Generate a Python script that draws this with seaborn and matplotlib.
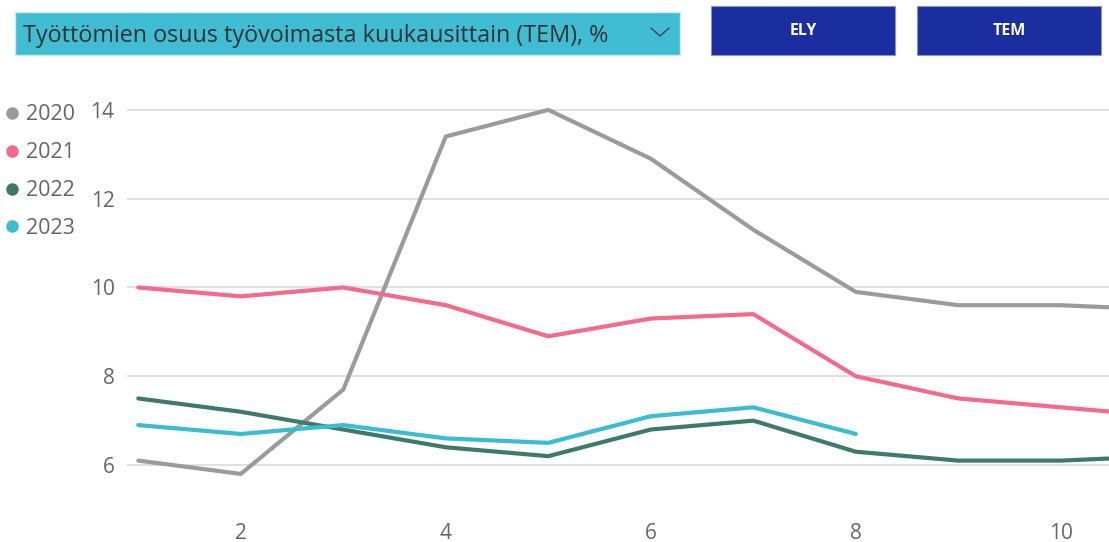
import seaborn as sns
import matplotlib.pyplot as plt
import pandas as pd
from matplotlib.lines import Line2D
from matplotlib.patches import Rectangle

# monthly unemployment share of labour force (%)
months = [1, 2, 3, 4, 5, 6, 7, 8, 9, 10, 11]
y2020 = [6.1, 5.8, 7.7, 13.4, 14.0, 12.9, 11.3, 9.9, 9.6, 9.6, 9.5]
y2021 = [10.0, 9.8, 10.0, 9.6, 8.9, 9.3, 9.4, 8.0, 7.5, 7.3, 7.1]
y2022 = [7.5, 7.2, 6.8, 6.4, 6.2, 6.8, 7.0, 6.3, 6.1, 6.1, 6.2]
y2023 = [6.9, 6.7, 6.9, 6.6, 6.5, 7.1, 7.3, 6.7]
years = ['2020', '2021', '2022', '2023']
colors = ['#9b9b9b', '#f6698b', '#3e7a6a', '#38bdd3']
x_ticks = [2, 4, 6, 8, 10]
y_ticks = [6, 8, 10, 12, 14]
title = 'Työttömien osuus työvoimasta kuukausittain (TEM), %'
buttons = ['ELY', 'TEM']


def main():
    sns.set_theme(style='white')
    plt.rcParams['font.family'] = ['Open Sans', 'DejaVu Sans']
    txt = '#666666'

    frames = []
    for year, vals in zip(years, [y2020, y2021, y2022, y2023]):
        frames.append(pd.DataFrame({'month': months[:len(vals)],
                                    'value': vals, 'year': year}))
    df = pd.concat(frames, ignore_index=True)

    fig = plt.figure(figsize=(11.09, 5.42), dpi=100)
    ax = fig.add_axes([127 / 1109, 1 - 505 / 542, 1 - 127 / 1109,
                       (505 - 97) / 542])
    sns.lineplot(data=df, x='month', y='value', hue='year',
                 palette=dict(zip(years, colors)), linewidth=3,
                 legend=False, ax=ax, zorder=3)
    ax.set_xlim(0.89, 10.47)
    ax.set_ylim(5.1, 14.29)
    ax.set_xticks(x_ticks)
    ax.set_yticks(y_ticks)
    ax.set_xlabel('')
    ax.set_ylabel('')
    ax.grid(axis='y', color='#e1e1e1', linewidth=1.4)
    ax.grid(axis='x', visible=False)
    for s in ax.spines.values():
        s.set_visible(False)
    ax.tick_params(axis='y', length=0, pad=9, labelsize=15, labelcolor=txt)
    ax.tick_params(axis='x', length=0, pad=13, labelsize=15, labelcolor=txt)

    handles = [Line2D([], [], linestyle='none', marker='o', markersize=8,
                      color=c) for c in colors]
    fig.legend(handles, years, loc='upper left',
               bbox_to_anchor=(0.0, 1 - 98 / 542), frameon=False,
               fontsize=15.5, labelcolor=txt, handlelength=0.5,
               handletextpad=0.4, labelspacing=0.78, borderpad=0.3,
               borderaxespad=0)

    # dropdown header
    fig.patches.append(Rectangle((15 / 1109, 1 - 55 / 542), 665 / 1109,
                                 43 / 542, transform=fig.transFigure,
                                 facecolor='#40bdd2', edgecolor='#cfe9ef',
                                 linewidth=1))
    fig.text(23 / 1109, 1 - 36 / 542, title, fontsize=16.8,
             color='#333333', va='center', ha='left')
    fig.lines.append(Line2D([651 / 1109, 660 / 1109, 669 / 1109],
                            [1 - 28 / 542, 1 - 36 / 542, 1 - 28 / 542],
                            transform=fig.transFigure, color='#444444',
                            linewidth=1))

    # buttons
    for i, label in enumerate(buttons):
        x0 = (711 + i * 206) / 1109
        fig.patches.append(Rectangle((x0, 1 - 55 / 542), 184 / 1109,
                                     49 / 542, transform=fig.transFigure,
                                     facecolor='#1a2ea0',
                                     edgecolor='#8c93c8', linewidth=0.8))
        fig.text(x0 + 92 / 1109, 1 - 31 / 542, label, fontsize=11.5,
                 color='white', fontweight='bold', ha='center',
                 va='center')

    fig.savefig('out.png', dpi=100)


if __name__ == "__main__":
    main()
